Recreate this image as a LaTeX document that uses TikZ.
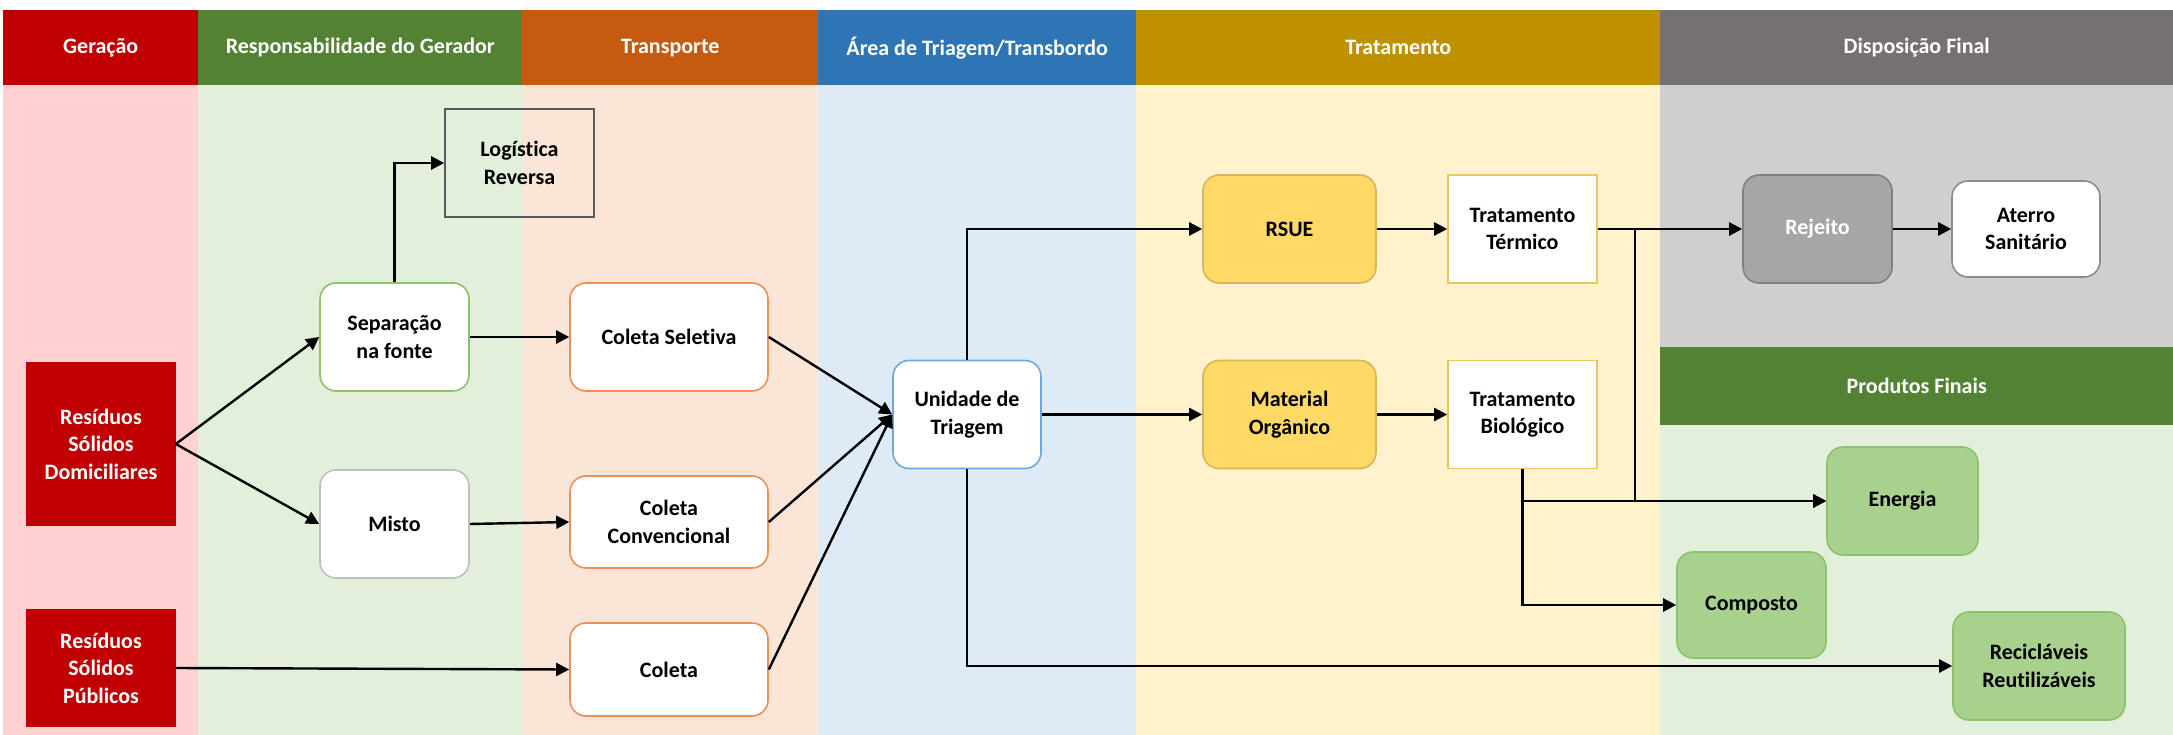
\documentclass[tikz,border=0pt]{standalone}
\usepackage{fontspec}
\setmainfont{Carlito}[Ligatures=NoCommon]
\usetikzlibrary{arrows.meta}
\definecolor{hRed}{HTML}{C00000}\definecolor{bRed}{HTML}{FFD1D1}
\definecolor{hGreen}{HTML}{548235}\definecolor{bGreen}{HTML}{E2EFDA}
\definecolor{hOrange}{HTML}{C55A11}\definecolor{bOrange}{HTML}{FBE5D6}
\definecolor{hBlue}{HTML}{2E75B6}\definecolor{bBlue}{HTML}{DEEBF7}
\definecolor{hGold}{HTML}{BF9000}\definecolor{bGold}{HTML}{FFF2CC}
\definecolor{hGray}{HTML}{767171}\definecolor{bGray}{HTML}{D0CECE}
\definecolor{cGreenLine}{HTML}{8CC26B}\definecolor{cOrangeLine}{HTML}{EB8F55}
\definecolor{cBlueLine}{HTML}{6FA8DC}\definecolor{cYellow}{HTML}{FFD966}
\definecolor{cYellowLine}{HTML}{D6B656}\definecolor{cTTLine}{HTML}{EBC65A}
\definecolor{cProd}{HTML}{A9D18E}\definecolor{cProdLine}{HTML}{8CC26B}
\tikzset{
  txt/.style={font=\fontsize{22}{27.5}\selectfont\bfseries, align=center},
  hdr/.style={txt, text=white, inner sep=0pt, anchor=north west},
  box/.style={txt, draw, line width=1.6pt, rounded corners=16pt, fill=white, inner sep=2pt,
              minimum width=149pt, minimum height=108pt},
  sqbox/.style={box, rounded corners=0pt},
  arr/.style={line width=2.4pt, -{Triangle[length=13pt,width=13pt]}},
}
\begin{document}
\begin{tikzpicture}[x=1pt,y=-1pt]
\useasboundingbox (0,0) rectangle (2173,735);
\fill[white] (0,0) rectangle (2173,735);
% column bodies
\fill[bRed] (3,85) rectangle (198,735);
\fill[bGreen] (198,85) rectangle (522,735);
\fill[bOrange] (522,85) rectangle (818,735);
\fill[bBlue] (818,85) rectangle (1136,735);
\fill[bGold] (1136,85) rectangle (1660,735);
\fill[bGray] (1660,85) rectangle (2173,347);
\fill[bGreen] (1660,425) rectangle (2173,735);
% headers
\node[hdr, fill=hRed, minimum width=195pt, minimum height=75pt] (h1) at (3,10) {Geração};
\node[hdr, fill=hGreen, minimum width=324pt, minimum height=75pt] (h2) at (198,10) {Responsabilidade do Gerador};
\node[hdr, fill=hOrange, minimum width=296pt, minimum height=75pt] (h3) at (522,10) {Transporte};
\node[hdr, fill=hBlue, minimum width=318pt, minimum height=75pt] (h4) at (818,10) {Área de Triagem/Transbordo};
\node[hdr, fill=hGold, minimum width=524pt, minimum height=75pt] (h5) at (1136,10) {Tratamento};
\node[hdr, fill=hGray, minimum width=513pt, minimum height=75pt] (h6) at (1660,10) {Disposição Final};
\node[hdr, fill=hGreen, minimum width=513pt, minimum height=78pt] (h7) at (1660,347) {Produtos Finais};
% nodes
\node[sqbox, fill=none, draw=black!65, minimum height=108pt] (log) at (519.5,163) {Logística\\Reversa};
\node[box, draw=cGreenLine] (sep) at (394.5,337) {Separação\\na fonte};
\node[box, draw=black!25] (mis) at (394.5,524) {Misto};
\node[box, draw=cOrangeLine, minimum width=198pt] (cs) at (669,337) {Coleta Seletiva};
\node[box, draw=cOrangeLine, minimum width=198pt, minimum height=92pt] (cc) at (669,522) {Coleta\\Convencional};
\node[box, draw=cOrangeLine, minimum width=198pt, minimum height=93pt] (col) at (669,669.5) {Coleta};
\node[sqbox, fill=hRed, draw=hRed, text=white, minimum width=148pt, minimum height=162pt] (rsd) at (101,444) {Resíduos\\Sólidos\\Domiciliares};
\node[sqbox, fill=hRed, draw=hRed, text=white, minimum width=148pt, minimum height=116pt] (rsp) at (101,668) {Resíduos\\Sólidos\\Públicos};
\node[box, draw=cBlueLine, minimum width=148pt] (uni) at (967,414.5) {Unidade de\\Triagem};
\node[box, fill=cYellow, draw=cYellowLine, minimum width=173pt] (rsue) at (1289.5,229) {RSUE};
\node[box, fill=cYellow, draw=cYellowLine, minimum width=173pt] (mat) at (1289.5,414.5) {Material\\Orgânico};
\node[sqbox, draw=cTTLine] (tt) at (1522.5,229) {Tratamento\\Térmico};
\node[sqbox, draw=cTTLine] (tb) at (1522.5,414.5) {Tratamento\\Biológico};
\node[box, fill=black!35, draw=black!50, text=white] (rej) at (1817.5,229) {Rejeito};
\node[box, draw=black!45, minimum width=148pt, minimum height=96pt] (ate) at (2026,229) {Aterro\\Sanitário};
\node[box, fill=cProd, draw=cProdLine, minimum width=151pt] (ene) at (1902.5,501) {Energia};
\node[box, fill=cProd, draw=cProdLine, minimum height=106pt] (comp) at (1751.5,605) {Composto};
\node[box, fill=cProd, draw=cProdLine, minimum width=172pt] (rec) at (2039,666) {Recicláveis\\Reutilizáveis};
% connectors
\draw[arr] (rsd.east) -- (sep.west);
\draw[arr] (rsd.east) -- (mis.west);
\draw[arr] (sep.north) |- (log.west);
\draw[arr] (sep.east) -- (cs.west);
\draw[arr] (mis.east) -- (cc.west);
\draw[arr] (rsp.east) -- (col.west);
\draw[arr] (cs.east) -- (uni.west);
\draw[arr] (cc.east) -- (uni.west);
\draw[arr] (col.east) -- (uni.west);
\draw[arr] (uni.north) |- (rsue.west);
\draw[arr] (uni.east) -- (mat.west);
\draw[arr] (uni.south) |- (rec.west);
\draw[arr] (rsue.east) -- (tt.west);
\draw[arr] (mat.east) -- (tb.west);
\draw[arr] (tt.east) -- (rej.west);
\coordinate (br) at (1635,229);
\draw[arr] (br) |- (ene.west);
\draw[arr] (tb.south) |- (ene.west);
\draw[arr] (tb.south) |- (comp.west);
\draw[arr] (rej.east) -- (ate.west);
\end{tikzpicture}
\end{document}
